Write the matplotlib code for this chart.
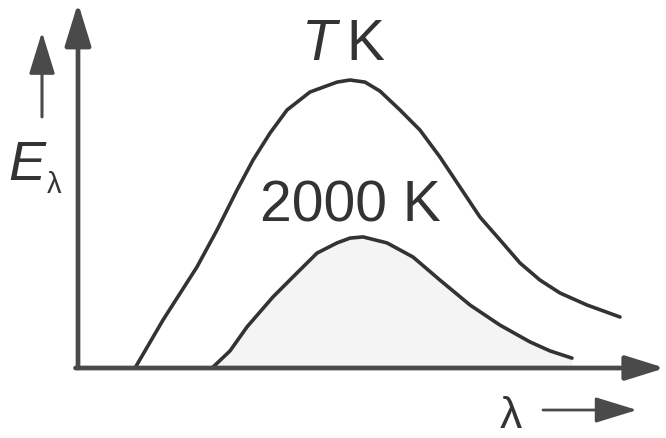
import matplotlib
matplotlib.use("Agg")
import matplotlib.pyplot as plt

plt.rcParams['font.family'] = ['Liberation Sans', 'DejaVu Sans']

# Spectral emissive power E_lambda vs wavelength (arbitrary units)
lam_hot = [1.14, 1.70, 2.38, 2.78, 3.18, 3.50, 3.84, 4.18, 4.64, 5.18, 5.44,
           5.74, 6.04, 6.44, 6.84, 7.24, 7.64, 8.04, 8.44, 8.84, 9.24, 9.64,
           10.18, 10.84]
e_hot = [0.00, 1.60, 3.37, 4.60, 5.93, 6.93, 7.83, 8.60, 9.20, 9.53, 9.60,
         9.53, 9.23, 8.60, 7.93, 7.03, 6.03, 5.03, 4.27, 3.50, 2.93, 2.50,
         2.10, 1.70]

lam_2000 = [2.68, 3.04, 3.38, 3.90, 4.38, 4.78, 5.18, 5.44, 5.70, 6.18,
            6.70, 7.24, 7.84, 8.44, 9.04, 9.44, 9.88]
e_2000 = [0.00, 0.57, 1.37, 2.37, 3.17, 3.83, 4.17, 4.33, 4.37, 4.17,
          3.70, 2.93, 2.10, 1.43, 0.87, 0.57, 0.33]

ink = '#333333'
axis_ink = '#4a4a4a'

fig = plt.figure(figsize=(6.66, 4.38), dpi=100)
ax = fig.add_axes([0, 0, 1, 1])
ax.set_xlim(-1.56, 11.76)
ax.set_ylim(-2.333, 12.267)
ax.axis('off')

# shaded area under the 2000 K curve
ax.fill_between(lam_2000, e_2000, 0, color='#f4f4f4', lw=0, zorder=1)
ax.plot(lam_2000, e_2000, color=ink, lw=2.6, solid_joinstyle='round',
        solid_capstyle='round', zorder=3)
ax.plot(lam_hot, e_hot, color=ink, lw=2.6, solid_joinstyle='round',
        solid_capstyle='round', zorder=3)


def arrow(x0, y0, x1, y1, lw, hl, hw):
    ax.annotate('', xy=(x1, y1), xytext=(x0, y0),
                arrowprops=dict(arrowstyle=f'-|>,head_length={hl},head_width={hw}',
                                lw=lw, color=axis_ink, shrinkA=0, shrinkB=0,
                                mutation_scale=10),
                zorder=4)


# axes
arrow(0, 0, 0, 12.17, 3.4, 2.6, 0.8)
arrow(-0.05, 0, 11.74, 0, 3.4, 2.4, 0.75)
# direction arrows next to the axis labels
arrow(-0.72, 8.37, -0.72, 11.2, 2.2, 2.6, 0.8)
arrow(9.3, -1.4, 11.18, -1.4, 2.0, 2.6, 0.8)

# labels
ax.text(-1.4, 6.27, 'E', fontsize=40, style='italic', color=ink,
        ha='left', va='baseline')
ax.text(-0.62, 5.85, 'λ', fontsize=21, color=ink, ha='left', va='baseline')
ax.text(8.44, -2.0, 'λ', fontsize=32, color=ink, ha='left', va='baseline')
ax.text(5.44, 4.87, '2000 K', fontsize=41, color=ink, ha='center', va='baseline')
ax.text(4.48, 10.27, 'T', fontsize=41, style='italic', color=ink,
        ha='left', va='baseline')
ax.text(5.36, 10.27, 'K', fontsize=41, color=ink, ha='left', va='baseline')

fig.savefig('out.png', dpi=100)
